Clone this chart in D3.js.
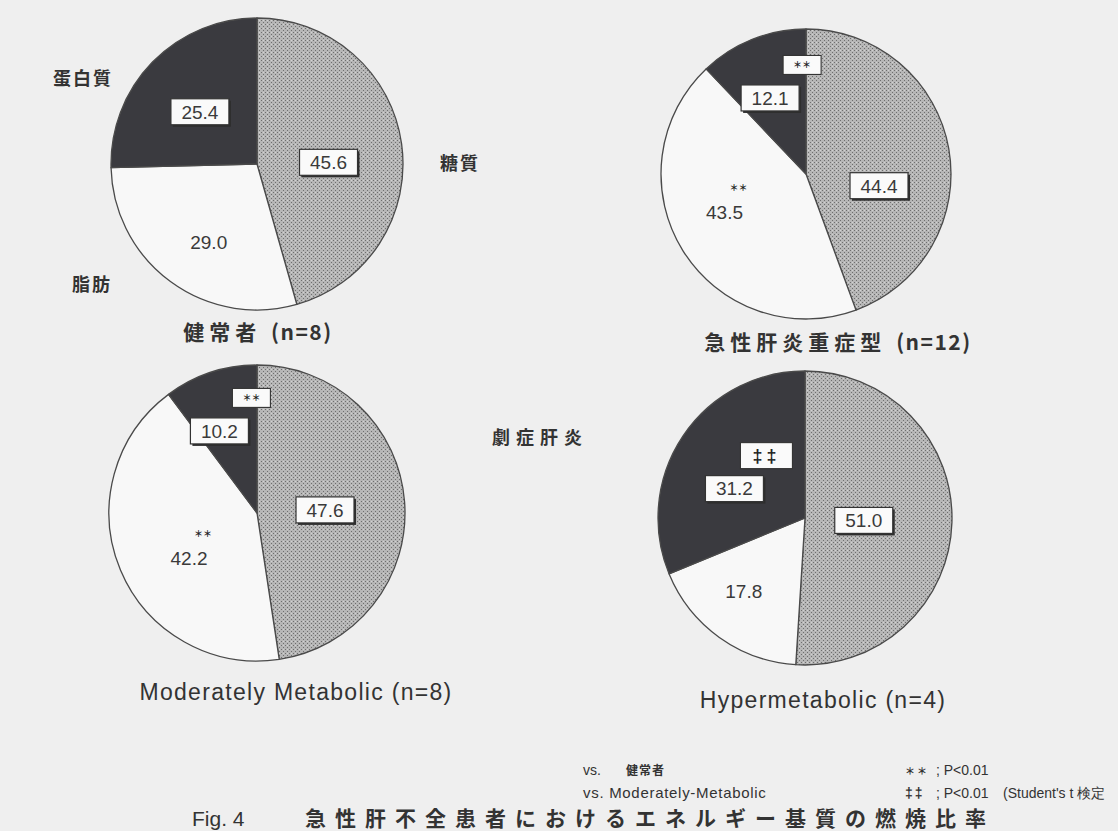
<!DOCTYPE html>
<html>
<head>
<meta charset="utf-8">
<script src="https://cdn.jsdelivr.net/npm/d3@7"></script>
<style>
  html, body { margin: 0; padding: 0; background: #efefef; }
  svg { display: block; }
</style>
</head>
<body>
<svg id="chart" width="1118" height="831"></svg>
<script>
// Combustion ratio of energy substrates (%), clockwise from 12 o'clock
const substrates   = ["糖質", "脂肪", "蛋白質"];
const groupNames   = ["健常者", "急性肝炎重症型", "Moderately Metabolic", "Hypermetabolic"];
const groupN       = ["(n=8)", "(n=12)", "(n=8)", "(n=4)"];
const carbohydrate = [45.6, 44.4, 47.6, 51.0];
const fat          = [29.0, 43.5, 42.2, 17.8];
const protein      = [25.4, 12.1, 10.2, 31.2];
// significance marks: ＊＊ vs 健常者, ‡‡ vs Moderately-Metabolic
const fatMarks     = ["", "＊＊", "＊＊", ""];
const proteinMarks = ["", "＊＊", "＊＊", "‡‡"];

const JP = "'Noto Sans CJK JP', 'Noto Sans', sans-serif";
const EN = "'Liberation Sans', Arial, sans-serif";

const svg = d3.select("#chart");

// carbohydrate stipple
const defs = svg.append("defs");
const pat = defs.append("pattern").attr("id", "stipple")
  .attr("width", 4).attr("height", 4).attr("patternUnits", "userSpaceOnUse");
pat.append("rect").attr("width", 4).attr("height", 4).attr("fill", "#b6b6b6");
pat.append("rect").attr("x", 0).attr("y", 0).attr("width", 1).attr("height", 1).attr("fill", "#6e6e6e");
pat.append("rect").attr("x", 2).attr("y", 2).attr("width", 1).attr("height", 1).attr("fill", "#6e6e6e");
pat.append("rect").attr("x", 2).attr("y", 0).attr("width", 1).attr("height", 1).attr("fill", "#d2d2d2");

const fills = { "糖質": "url(#stipple)", "脂肪": "#f8f8f8", "蛋白質": "#3a3a3f" };

// pie placement; label = [fraction along slice angle, fraction of radius]
const layout = [
  { cx: 257, cy: 164, r: 146, title: [258, 340],
    label: { "糖質": [0.54, 0.49], "脂肪": [0.455, 0.63], "蛋白質": [0.48, 0.53] },
    boxed: { "糖質": true, "脂肪": false, "蛋白質": true } },
  { cx: 806, cy: 174, r: 145, title: [838, 350],
    label: { "糖質": [0.62, 0.51], "脂肪": [0.544, 0.62], "蛋白質": [0.42, 0.58] },
    boxed: { "糖質": true, "脂肪": false, "蛋白質": true } },
  { cx: 257, cy: 513, r: 148, title: [296, 700],
    label: { "糖質": [0.51, 0.46], "脂肪": [0.43, 0.55], "蛋白質": [0.33, 0.61] },
    boxed: { "糖質": true, "脂肪": false, "蛋白質": true } },
  { cx: 805, cy: 518, r: 147, title: [823, 708],
    label: { "糖質": [0.503, 0.40], "脂肪": [0.566, 0.65], "蛋白質": [0.40, 0.52] },
    boxed: { "糖質": true, "脂肪": false, "蛋白質": true } }
];

const pie = d3.pie().sort(null).value(d => d.value);

groupNames.forEach((name, i) => {
  const L = layout[i];
  const rows = [
    { key: "糖質", value: carbohydrate[i], mark: "" },
    { key: "脂肪", value: fat[i], mark: fatMarks[i] },
    { key: "蛋白質", value: protein[i], mark: proteinMarks[i] }
  ];
  const arcs = pie(rows);
  const arc = d3.arc().innerRadius(0).outerRadius(L.r);
  const g = svg.append("g").attr("transform", `translate(${L.cx},${L.cy})`);

  g.selectAll("path.slice").data(arcs).join("path")
    .attr("class", "slice")
    .attr("d", arc)
    .attr("fill", d => fills[d.data.key])
    .attr("stroke", "#4a4a4a")
    .attr("stroke-width", 1.3)
    .attr("stroke-linejoin", "round");

  arcs.forEach(d => {
    const [t, k] = L.label[d.data.key];
    const a = d.startAngle + t * (d.endAngle - d.startAngle);
    const rr = k * L.r;
    const x = rr * Math.sin(a), y = -rr * Math.cos(a);
    const txt = d.data.value.toFixed(1);
    const lg = g.append("g").attr("transform", `translate(${x},${y})`);
    if (L.boxed[d.data.key]) {
      const w = 58, h = 26;
      lg.append("rect").attr("x", -w / 2 + 2).attr("y", -h / 2 + 2).attr("width", w).attr("height", h)
        .attr("fill", "#2e2e2e");
      lg.append("rect").attr("x", -w / 2).attr("y", -h / 2).attr("width", w).attr("height", h)
        .attr("fill", "#fafafa").attr("stroke", "#333").attr("stroke-width", 1.2);
    }
    lg.append("text").attr("text-anchor", "middle").attr("dy", "0.36em")
      .attr("font-family", EN).attr("font-size", 19).attr("fill", "#3a3a3a")
      .text(txt);

    if (d.data.mark) {
      if (d.data.key === "蛋白質") {
        // boxed significance tag above the value box
        const big = d.data.mark === "‡‡";
        const w = big ? 52 : 38, h = big ? 26 : 19;
        const mx = 32, my = -33;
        const mg = lg.append("g").attr("transform", `translate(${mx},${my})`);
        mg.append("rect").attr("x", -w / 2).attr("y", -h / 2).attr("width", w).attr("height", h)
          .attr("fill", "#fafafa").attr("stroke", "#333").attr("stroke-width", 1.1);
        mg.append("text").attr("text-anchor", "middle").attr("dy", "0.36em")
          .attr("font-family", big ? EN : JP).attr("font-weight", 700)
          .attr("font-size", big ? 18 : 9).attr("fill", "#222")
          .attr("letter-spacing", big ? 4 : 0)
          .text(d.data.mark);
      } else {
        lg.append("text").attr("x", 14).attr("y", -21).attr("text-anchor", "middle")
          .attr("font-family", JP).attr("font-weight", 700).attr("font-size", 9).attr("fill", "#222")
          .text(d.data.mark);
      }
    }
  });

  // group title under each chart
  const jp = i < 2;
  const tt = svg.append("text").attr("x", L.title[0]).attr("y", L.title[1]).attr("text-anchor", "middle")
    .attr("fill", "#333");
  if (jp) {
    tt.attr("font-family", JP).attr("font-size", 21).attr("font-weight", 700);
    tt.append("tspan").attr("letter-spacing", 5).text(name + " ");
    tt.append("tspan").attr("letter-spacing", 1.5).text(groupN[i]);
  } else {
    tt.attr("font-family", EN).attr("font-size", 23).attr("letter-spacing", 1.3)
      .text(name + " " + groupN[i]);
  }
});

// substrate names beside the first chart, group name beside the last
const sideLabels = [
  { text: "蛋白質", x: 83, y: 85 },
  { text: "糖質", x: 460, y: 170 },
  { text: "脂肪", x: 92, y: 291 },
  { text: "劇症肝炎", x: 540, y: 444 }
];
svg.selectAll("text.side").data(sideLabels).join("text")
  .attr("class", "side")
  .attr("x", d => d.x).attr("y", d => d.y).attr("text-anchor", "middle")
  .attr("font-family", JP).attr("font-size", 18).attr("font-weight", 700)
  .attr("letter-spacing", d => d.text.length > 3 ? 6 : 2).attr("fill", "#333")
  .text(d => d.text);

// footnotes
const foot = svg.append("g").attr("font-family", EN).attr("font-size", 14).attr("fill", "#333");
foot.append("text").attr("x", 583).attr("y", 775).text("vs.");
foot.append("text").attr("x", 626).attr("y", 775).attr("font-family", JP).attr("font-weight", 700)
  .attr("font-size", 12).attr("letter-spacing", 1).text("健常者");
foot.append("text").attr("x", 905).attr("y", 775).attr("font-family", JP).attr("font-weight", 700)
  .attr("font-size", 10).attr("letter-spacing", 2).text("＊＊");
foot.append("text").attr("x", 936).attr("y", 775).text("; P<0.01");
foot.append("text").attr("x", 583).attr("y", 798).attr("font-size", 15).attr("letter-spacing", 0.7)
  .text("vs. Moderately-Metabolic");
foot.append("text").attr("x", 905).attr("y", 798).attr("font-weight", 700).attr("letter-spacing", 2).text("‡‡");
foot.append("text").attr("x", 936).attr("y", 798).text("; P<0.01");
foot.append("text").attr("x", 1003).attr("y", 798).attr("font-size", 14).text("(Student's t 検定");

// caption
svg.append("text").attr("x", 192).attr("y", 826).attr("font-family", EN).attr("font-size", 21)
  .attr("fill", "#333").text("Fig. 4");
svg.append("text").attr("x", 305).attr("y", 826).attr("font-family", JP).attr("font-size", 21)
  .attr("font-weight", 700).attr("letter-spacing", 9).attr("fill", "#333")
  .text("急性肝不全患者におけるエネルギー基質の燃焼比率");
</script>
</body>
</html>
